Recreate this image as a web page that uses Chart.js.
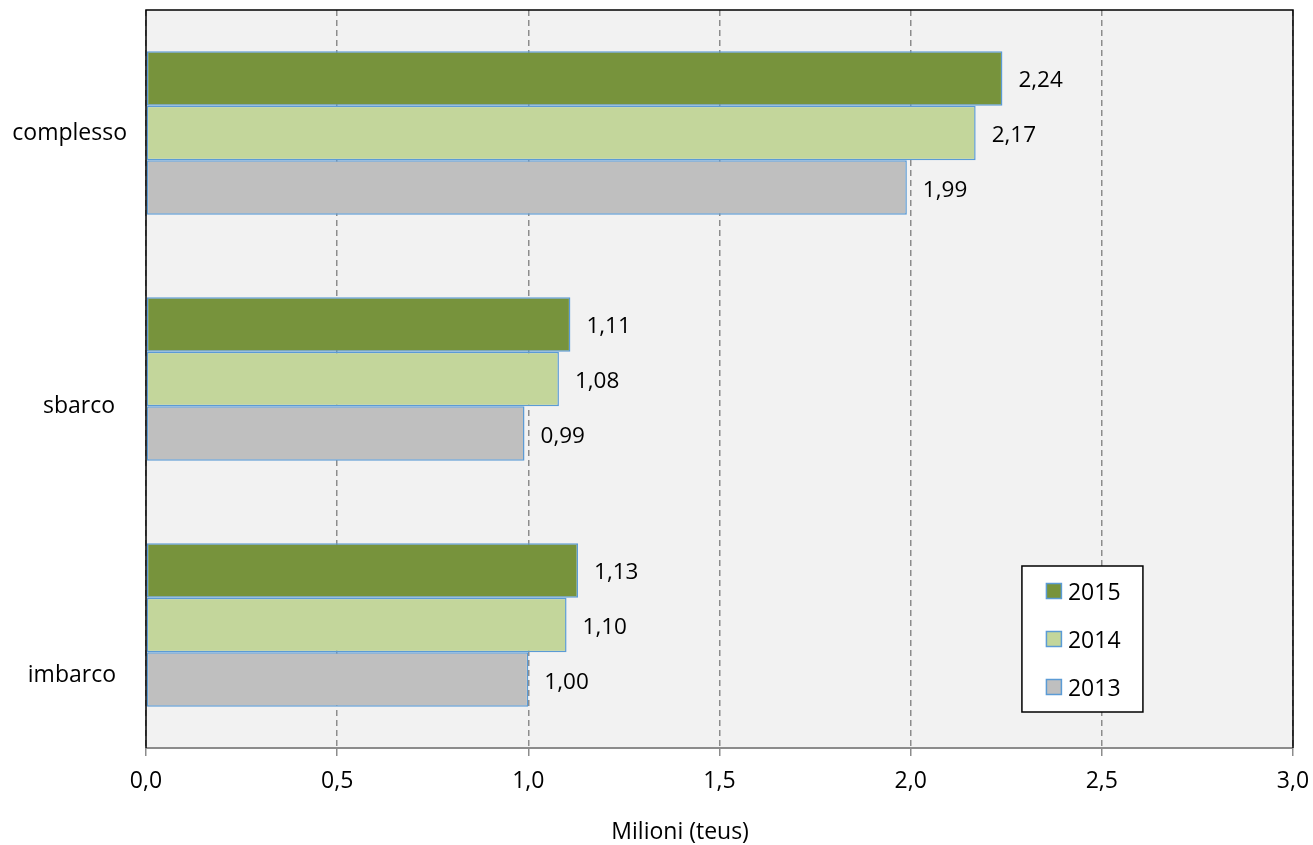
<!DOCTYPE html>
<html>
<head>
<meta charset="utf-8">
<script src="https://cdn.jsdelivr.net/npm/chart.js@4/dist/chart.umd.min.js"></script>
<style>
  body { margin: 0; background: #ffffff; }
  #wrap { width: 1313px; height: 845px; }
</style>
</head>
<body>
<div id="wrap"><canvas id="grafico"></canvas></div>
<script>
// dati (milioni di teus)
const categorie = ['complesso', 'sbarco', 'imbarco'];
const anni = ['2015', '2014', '2013'];
const valori2015 = [2.24, 1.11, 1.13];
const valori2014 = [2.17, 1.08, 1.10];
const valori2013 = [1.99, 0.99, 1.00];
const colori = ['#77933c', '#c3d69b', '#bfbfbf'];
const tickEtichette = ['0,0', '0,5', '1,0', '1,5', '2,0', '2,5', '3,0'];
const titoloAsse = 'Milioni (teus)';

const FONT = '"Open Sans", sans-serif';

function fmt(v) {
    return v.toFixed(2).replace('.', ',');
}

// sfondo grigio e bordi dell'area del grafico
const sfondoPlugin = {
    id: 'sfondo',
    beforeDraw(chart) {
        const { ctx, chartArea: a } = chart;
        ctx.save();
        ctx.fillStyle = '#f2f2f2';
        ctx.fillRect(a.left, a.top, a.right - a.left, a.bottom - a.top);
        ctx.restore();
    },
    afterDatasetsDraw(chart) {
        const { ctx, chartArea: a } = chart;
        ctx.save();
        // asse inferiore grigio
        ctx.strokeStyle = '#8c8c8c';
        ctx.lineWidth = 2;
        ctx.beginPath();
        ctx.moveTo(a.left, a.bottom);
        ctx.lineTo(a.right, a.bottom);
        ctx.stroke();
        // bordi neri
        ctx.strokeStyle = '#000000';
        ctx.lineWidth = 1.5;
        ctx.beginPath();
        ctx.moveTo(a.left, a.bottom);
        ctx.lineTo(a.left, a.top);
        ctx.lineTo(a.right, a.top);
        ctx.lineTo(a.right, a.bottom);
        ctx.stroke();
        ctx.restore();
    }
};

// etichette delle categorie (spostate come nell'originale) e titolo dell'asse x
const assiPlugin = {
    id: 'assi',
    afterDraw(chart) {
        const { ctx, scales } = chart;
        // spostamento [dx dal bordo sinistro, dy dal centro della categoria]
        const spost = [[-19, 7], [-31, 33.5], [-30, 57]];
        ctx.save();
        ctx.fillStyle = '#000000';
        ctx.font = '23px ' + FONT;
        ctx.textAlign = 'right';
        ctx.textBaseline = 'alphabetic';
        categorie.forEach((c, i) => {
            const y = scales.y.getPixelForValue(i);
            ctx.fillText(c, chart.chartArea.left + spost[i][0], y + spost[i][1]);
        });
        ctx.textAlign = 'center';
        ctx.fillText(titoloAsse, scales.x.getPixelForValue(1.397), 839);
        ctx.restore();
    }
};

// etichette dei valori a destra delle barre
const etichettePlugin = {
    id: 'etichette',
    afterDatasetsDraw(chart) {
        const ctx = chart.ctx;
        ctx.save();
        ctx.font = '22.5px ' + FONT;
        ctx.fillStyle = '#000000';
        ctx.textAlign = 'left';
        ctx.textBaseline = 'alphabetic';
        chart.data.datasets.forEach((ds, i) => {
            chart.getDatasetMeta(i).data.forEach((bar, j) => {
                ctx.fillText(fmt(ds.data[j]), bar.x + 16, bar.y + 9);
            });
        });
        ctx.restore();
    }
};

// legenda dentro l'area del grafico
const legendaPlugin = {
    id: 'legenda',
    afterDraw(chart) {
        const { ctx } = chart;
        const x = chart.scales.x.getPixelForValue(2.291);
        const y = 566, w = 121, h = 146;
        ctx.save();
        ctx.fillStyle = '#ffffff';
        ctx.fillRect(x, y, w, h);
        ctx.strokeStyle = '#000000';
        ctx.lineWidth = 1.5;
        ctx.strokeRect(x, y, w, h);
        ctx.font = '23px ' + FONT;
        ctx.textBaseline = 'alphabetic';
        ctx.textAlign = 'left';
        chart.data.datasets.forEach((ds, i) => {
            const top = y + 17.5 + i * 48;
            ctx.fillStyle = ds.backgroundColor;
            ctx.fillRect(x + 24.5, top, 15, 15);
            ctx.strokeStyle = '#5b9bd5';
            ctx.lineWidth = 1.5;
            ctx.strokeRect(x + 24.5, top, 15, 15);
            ctx.fillStyle = '#000000';
            ctx.fillText(ds.label, x + 46, top + 16);
        });
        ctx.restore();
    }
};

const dati = {
    labels: categorie,
    datasets: [
        { label: anni[0], data: valori2015, backgroundColor: colori[0] },
        { label: anni[1], data: valori2014, backgroundColor: colori[1] },
        { label: anni[2], data: valori2013, backgroundColor: colori[2] }
    ].map(ds => Object.assign(ds, {
        borderColor: '#5b9bd5',
        borderWidth: 1.5,
        borderSkipped: false,
        categoryPercentage: 0.665,
        barPercentage: 1.0
    }))
};

const opzioni = {
    indexAxis: 'y',
    responsive: true,
    maintainAspectRatio: false,
    animation: false,
    layout: { padding: { top: 10, right: 20, left: 0, bottom: 0 } },
    plugins: {
        legend: { display: false },
        tooltip: { enabled: false }
    },
    scales: {
        x: {
            min: 0,
            max: 3,
            afterBuildTicks(scale) {
                scale.ticks = tickEtichette.map((t, i) => ({ value: i * 0.5 }));
            },
            afterFit(scale) {
                scale.height = 97;
                scale.paddingLeft = 0;
                scale.paddingRight = 0;
            },
            ticks: {
                color: '#000000',
                font: { family: FONT, size: 23 },
                padding: 12,
                maxRotation: 0,
                callback: (v, i) => tickEtichette[i]
            },
            grid: {
                color: '#8c8c8c',
                lineWidth: 1.5,
                tickLength: 8,
                tickColor: '#8c8c8c',
                tickBorderDash: [],
                drawTicks: true
            },
            border: { display: false, dash: [6, 4] }
        },
        y: {
            afterFit(scale) {
                scale.width = 146;
                scale.paddingTop = 0;
                scale.paddingBottom = 0;
            },
            ticks: { display: false },
            grid: { display: false },
            border: { display: false }
        }
    }
};

new Chart(document.getElementById('grafico').getContext('2d'), {
    type: 'bar',
    data: dati,
    options: opzioni,
    plugins: [sfondoPlugin, etichettePlugin, legendaPlugin, assiPlugin]
});
</script>
</body>
</html>
